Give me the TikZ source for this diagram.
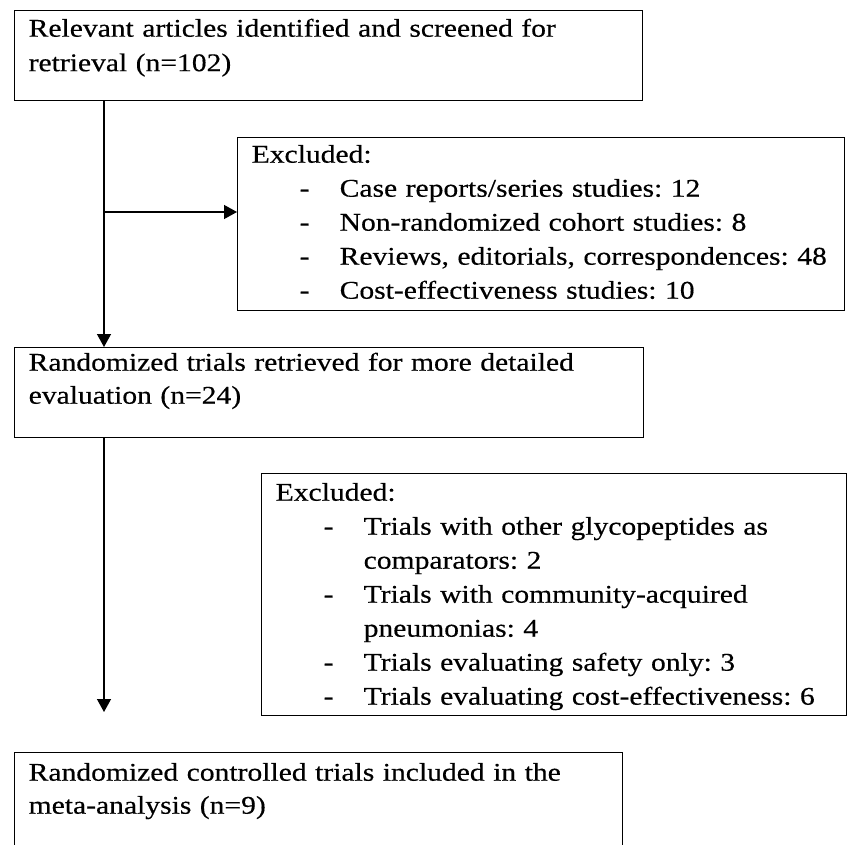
\documentclass[tikz,border=0pt]{standalone}
\usepackage{fontspec}
\setmainfont{Liberation Serif}[FakeStretch=1.16, WordSpace=0.85, FakeBold=0.4]
\usetikzlibrary{arrows.meta, positioning}
\tikzset{
    stagebox/.style={draw, line width=1.4pt, anchor=north west, inner xsep=14pt, inner ysep=0pt, align=left},
    flow/.style={line width=1.4pt, -{Triangle[length=13pt, width=14pt]}}
}
\newcommand{\exdash}{\makebox[48pt]{}\makebox[40pt][l]{-}}
\newcommand{\exgap}{\makebox[88pt]{}}
\frenchspacing

\begin{document}
\begin{tikzpicture}[x=1pt, y=-1pt]
    \useasboundingbox (0,0) rectangle (851,845);
    \clip (0,0) rectangle (851,845);

    % Main boxes
    \node[stagebox, text width=600pt, text height=26pt, text depth=64pt,
          font=\fontsize{25.5}{34.5}\selectfont] (relevant) at (14,10)
        {Relevant articles identified and screened for\\retrieval (n=102)};
    \node[stagebox, text width=601pt, text height=23pt, text depth=67pt,
          font=\fontsize{25.5}{33}\selectfont] (retrieved) at (14,347)
        {Randomized trials retrieved for more detailed\\evaluation (n=24)};
    \node[stagebox, text width=580pt, text height=28pt, text depth=100pt,
          font=\fontsize{25.5}{33}\selectfont] (included) at (14,752)
        {Randomized controlled trials included in the\\meta-analysis (n=9)};

    % Exclusion boxes
    \node[stagebox, text width=579pt, text height=25pt, text depth=148pt,
          font=\fontsize{25.5}{34}\selectfont] (exclone) at (237,137)
        {Excluded:\\
         \exdash Case reports/series studies: 12\\
         \exdash Non-randomized cohort studies: 8\\
         \exdash \mbox{Reviews, editorials, correspondences: 48}\\
         \exdash Cost-effectiveness studies: 10};
    \node[stagebox, text width=557pt, text height=27pt, text depth=215pt,
          font=\fontsize{25.5}{34}\selectfont] (excltwo) at (261,473)
        {Excluded:\\
         \exdash Trials with other glycopeptides as\\
         \exgap comparators: 2\\
         \exdash Trials with community-acquired\\
         \exgap pneumonias: 4\\
         \exdash Trials evaluating safety only: 3\\
         \exdash \mbox{Trials evaluating cost-effectiveness: 6}};

    % Arrows
    \coordinate (fork) at (104,212);
    \coordinate (sink) at (104,712);
    \draw[flow] (relevant.south -| sink) -- (retrieved.north -| sink);
    \draw[flow] (fork) -- (fork -| exclone.west);
    \draw[flow] (retrieved.south -| sink) -- (sink);
\end{tikzpicture}
\end{document}
